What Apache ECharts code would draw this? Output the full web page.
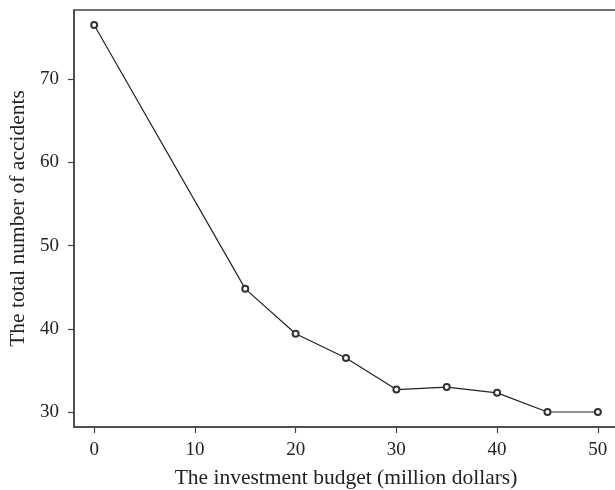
<!DOCTYPE html>
<html>
<head>
<meta charset="utf-8">
<script src="https://cdn.jsdelivr.net/npm/echarts@6/dist/echarts.min.js"></script>
<style>
html, body { margin: 0; padding: 0; background: #fff; }
#mycharts { width: 615px; height: 490px; }
</style>
</head>
<body>
<div id="mycharts"></div>
<script>
// budget (million dollars) and accident totals
var budget = [0, 15, 20, 25, 30, 35, 40, 45, 50];
var accidents = [76.5, 44.8, 39.4, 36.5, 32.7, 33.0, 32.3, 30.0, 30.0];
var xTicks = [0, 10, 20, 30, 40, 50];
var yTicks = [30, 40, 50, 60, 70];

var points = budget.map(function (b, i) { return [b, accidents[i]]; });

var myChart = echarts.init(document.getElementById('mycharts'));
var font = 'Liberation Serif';
var axisColor = '#444';

var option = {
    backgroundColor: '#fff',
    animation: false,
    grid: {
        left: 74,
        top: 10,
        width: 544,
        height: 417,
        show: true,
        borderColor: axisColor,
        borderWidth: 1.5,
        containLabel: false,
        outerBoundsMode: 'none'
    },
    xAxis: {
        type: 'value',
        min: -2,
        max: 52,
        name: 'The investment budget (million dollars)',
        nameLocation: 'middle',
        nameGap: 40,
        nameTextStyle: { fontFamily: font, fontSize: 21.5, color: '#222' },
        splitLine: { show: false },
        axisLine: { show: true, onZero: false, lineStyle: { color: axisColor, width: 1.5 } },
        axisTick: { show: true, length: 6, customValues: xTicks, lineStyle: { color: axisColor, width: 1.2 } },
        axisLabel: { customValues: xTicks, margin: 14, fontFamily: font, fontSize: 19, color: '#222' }
    },
    yAxis: {
        type: 'value',
        min: 28.2,
        max: 78.3,
        name: 'The total number of accidents',
        nameLocation: 'middle',
        nameGap: 44,
        nameTextStyle: { fontFamily: font, fontSize: 21.5, color: '#222' },
        splitLine: { show: false },
        axisLine: { show: true, onZero: false, lineStyle: { color: axisColor, width: 1.5 } },
        axisTick: { show: true, length: 6, customValues: yTicks, lineStyle: { color: axisColor, width: 1.2 } },
        axisLabel: { customValues: yTicks, margin: 15, fontFamily: font, fontSize: 19, color: '#222' }
    },
    series: [{
        type: 'line',
        data: points,
        symbol: 'emptyCircle',
        symbolSize: 6,
        lineStyle: { color: '#222', width: 1.2 },
        itemStyle: { color: '#333', borderWidth: 1.2 }
    }]
};

myChart.setOption(option);
</script>
</body>
</html>
